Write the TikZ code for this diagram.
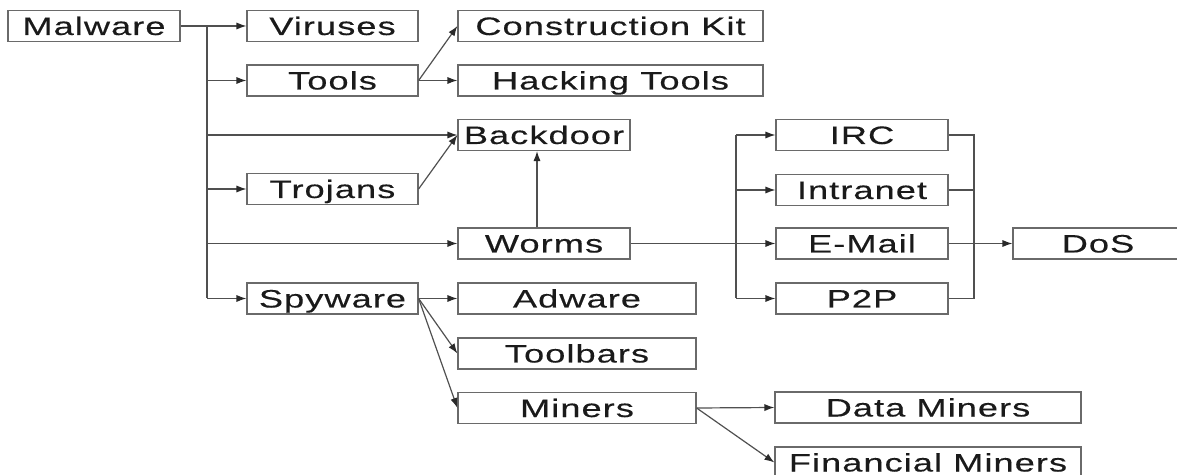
\documentclass[tikz,border=0pt]{standalone}
\usepackage{fontspec}
\setmainfont[FakeStretch=1.44,LetterSpace=4,FakeBold=0.25]{Liberation Sans}
\usetikzlibrary{arrows.meta}
\definecolor{boxc}{HTML}{6A6A6A}
\definecolor{linec}{HTML}{505050}
\definecolor{tipc}{HTML}{2A2A2A}
\definecolor{txtc}{HTML}{1A1A1A}
\begin{document}
\begin{tikzpicture}[x=0.5pt,y=-0.5pt,
  box/.style={draw=boxc,line width=0.6pt,minimum height=15.5pt,inner sep=0pt,
    text=txtc,font=\fontsize{12.6pt}{14pt}\selectfont,text height=9pt,text depth=0pt},
  conn/.style={draw=linec,line width=0.6pt},
  arr/.style={conn,-{Latex[length=5pt,width=3.6pt,color=tipc]}}]
\useasboundingbox (0,0) rectangle (1177,475);
\clip (0,0) rectangle (1177,475);
% nodes
\node[box,minimum width=86pt] (Malware) at (94,26) {Malware};
\node[box,minimum width=85.5pt] (Viruses) at (332.5,26) {Viruses};
\node[box,minimum width=85.5pt] (Tools) at (332.5,80.5) {Tools};
\node[box,minimum width=85.5pt] (Trojans) at (332.5,189) {Trojans};
\node[box,minimum width=85.5pt] (Spyware) at (332.5,298.5) {Spyware};
\node[box,minimum width=152.5pt] (CKit) at (610.5,26) {Construction Kit};
\node[box,minimum width=152.5pt] (HTools) at (610.5,80.5) {Hacking Tools};
\node[box,minimum width=86pt] (Backdoor) at (544,135) {Backdoor};
\node[box,minimum width=86pt] (Worms) at (544,243.5) {Worms};
\node[box,minimum width=119pt] (Adware) at (577,298.5) {Adware};
\node[box,minimum width=119pt] (Toolbars) at (577,353.5) {Toolbars};
\node[box,minimum width=119pt] (Miners) at (577,408) {Miners};
\node[box,minimum width=86pt] (IRC) at (862,135) {IRC};
\node[box,minimum width=86pt] (Intranet) at (862,190) {Intranet};
\node[box,minimum width=86pt] (EMail) at (862,243.5) {E-Mail};
\node[box,minimum width=86pt] (P2P) at (862,298.5) {P2P};
\node[box,minimum width=85pt] (DoS) at (1098,243.5) {DoS};
\node[box,minimum width=153pt] (DMiners) at (928,407.5) {Data Miners};
\node[box,minimum width=153pt] (FMiners) at (928,462.5) {Financial Miners};
% trunk
\coordinate (trunk) at (207,26);
\draw[arr] (Malware.east) -- (Viruses.west);
\draw[conn] (trunk) -- (trunk |- Spyware.west);
\draw[arr] (trunk |- Tools.west) -- (Tools.west);
\draw[arr] (trunk |- Backdoor.west) -- (Backdoor.west);
\draw[arr] (trunk |- Trojans.west) -- (Trojans.west);
\draw[arr] (trunk |- Worms.west) -- (Worms.west);
\draw[arr] (trunk |- Spyware.west) -- (Spyware.west);
% tools
\draw[arr] (Tools.east) -- (CKit.west);
\draw[arr] (Tools.east) -- (HTools.west);
% backdoor
\draw[arr] (Trojans.east) -- (Backdoor.west);
\draw[arr] ([xshift=-3.5pt]Worms.north) -- ([xshift=-3.5pt]Backdoor.south);
% worms
\coordinate (lb) at (736,135);
\coordinate (rb) at (974,135);
\draw[arr] (Worms.east) -- (EMail.west);
\draw[conn] (lb |- IRC.west) -- (lb |- P2P.west);
\draw[arr] (lb |- IRC.west) -- (IRC.west);
\draw[arr] (lb |- Intranet.west) -- (Intranet.west);
\draw[arr] (lb |- P2P.west) -- (P2P.west);
\draw[conn] (IRC.east) -- (rb |- IRC.east) -- (rb |- P2P.east) -- (P2P.east);
\draw[conn] (Intranet.east) -- (rb |- Intranet.east);
\draw[arr] (EMail.east) -- (DoS.west);
% spyware
\draw[arr] (Spyware.east) -- (Adware.west);
\draw[arr] (Spyware.east) -- (Toolbars.west);
\draw[arr] (Spyware.east) -- (Miners.west);
% miners
\draw[arr] (Miners.east) -- (DMiners.west);
\draw[arr] (Miners.east) -- (FMiners.west);
\end{tikzpicture}
\end{document}
